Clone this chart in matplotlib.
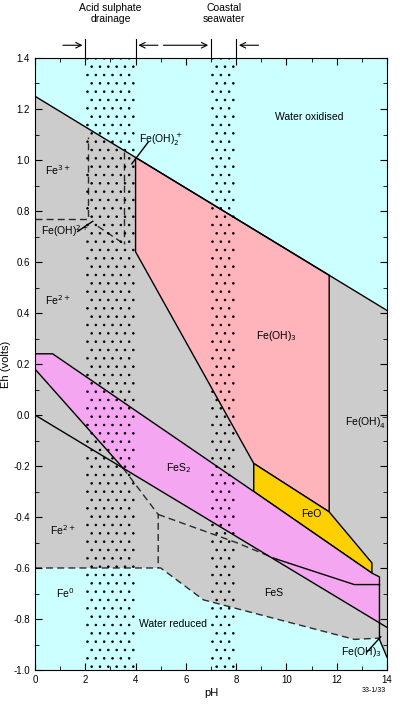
import matplotlib
matplotlib.use("Agg")
import matplotlib.pyplot as plt
from matplotlib.patches import Polygon
from matplotlib.ticker import MultipleLocator

plt.rcParams['font.family'] = ['Liberation Sans', 'DejaVu Sans']
plt.rcParams['hatch.linewidth'] = 0.6

water_upper = [(0, 1.25), (14, 0.41)]
water_lower = [(0, 0.0), (14, -0.833)]
grey_poly = [(0, 1.25), (14, 0.41), (14, -0.95), (13.7, -0.875), (12.7, -0.88), (6.7, -0.725), (5, -0.6), (0, -0.6)]
pink_poly = [(4, 1.01), (11.7, 0.548), (11.7, -0.38), (8.7, -0.19), (4, 0.64)]
feo_poly = [(8.7, -0.19), (11.7, -0.38), (13.4, -0.58), (13.4, -0.62), (8.7, -0.30)]
fes2_poly = [(0, 0.24), (0.7, 0.24), (8.7, -0.30), (13.4, -0.62), (13.7, -0.635), (13.7, -0.815), (3.5, -0.208), (0, 0.18)]
fes2_upper = [(0, 0.24), (0.7, 0.24), (8.7, -0.30), (13.4, -0.62), (13.7, -0.635), (13.7, -0.88)]
fes2_left = [(0, 0.18), (3.5, -0.208)]
fes_line = [(9.6, -0.565), (12.7, -0.665), (13.7, -0.665)]
fe0_dash = [(0, -0.6), (5, -0.6), (6.7, -0.725), (12.7, -0.88), (13.7, -0.875)]
dash2 = [(3.5, -0.208), (4.9, -0.39), (4.9, -0.6)]
dash3 = [(4.9, -0.39), (8, -0.5), (9.6, -0.565)]
fe3_dash_a = [(0, 0.77), (2.1, 0.77), (2.1, 1.09)]
fe3_dash_b = [(3.55, 1.03), (3.55, 0.67)]
fe3_dash_c = [(2.5, 0.74), (3.55, 0.67)]
bands = [(2, 4), (7, 8)]

fig = plt.figure(figsize=(4, 7.05), dpi=100)
ax = fig.add_axes([35/400, 35/705, 352/400, 612/705])
ax.set_xlim(0, 14); ax.set_ylim(-1.0, 1.4)
ax.set_facecolor('#ccffff')
ax.add_patch(Polygon(grey_poly, closed=True, fc='#cccccc', ec='none'))
ax.add_patch(Polygon(pink_poly, closed=True, fc='#ffb3ba', ec='k', lw=1))
ax.add_patch(Polygon(feo_poly, closed=True, fc='#ffd000', ec='k', lw=1))
ax.add_patch(Polygon(fes2_poly, closed=True, fc='#f5a6f0', ec='none'))
for b0, b1 in bands:
    ax.fill_between([b0, b1], -1.0, 1.4, facecolor='none', edgecolor='k', hatch='..', lw=0)

def pl(pts, **kw):
    xs, ys = zip(*pts)
    ax.plot(xs, ys, color='k', **kw)

for p in [water_upper, water_lower, fes2_upper, fes2_left, fes_line, [(13.7, -0.88), (14, -0.95)]]:
    pl(p, lw=1)
for p in [fe0_dash, dash2, dash3, fe3_dash_a, fe3_dash_b, fe3_dash_c]:
    pl(p, lw=1, ls=(0, (5, 3)), alpha=0.8)
pl([(3.85, 0.985), (4.5, 1.07)], lw=1)
pl([(1.7, 0.72), (2.3, 0.76)], lw=1)
pl([(13.2, -0.93), (13.75, -0.87)], lw=1)

fs = 7.5
t = dict(fontsize=fs, ha='center', va='center')
ax.text(0.9, 0.96, 'Fe$^{3+}$', **t)
ax.text(1.2, 0.72, 'Fe(OH)$^{2+}$', **t)
ax.text(5.0, 1.08, 'Fe(OH)$_2^+$', **t)
ax.text(0.9, 0.45, 'Fe$^{2+}$', **t)
ax.text(1.1, -0.45, 'Fe$^{2+}$', **t)
ax.text(1.2, -0.7, 'Fe$^0$', **t)
ax.text(5.5, -0.82, 'Water reduced', **t)
ax.text(9.5, -0.7, 'FeS', **t)
ax.text(5.7, -0.21, 'FeS$_2$', **t)
ax.text(11.0, -0.39, 'FeO', **t)
ax.text(9.6, 0.31, 'Fe(OH)$_3$', **t)
ax.text(13.2, -0.03, 'Fe(OH)$_4^-$', **t)
ax.text(10.9, 1.17, 'Water oxidised', **t)
ax.text(13.0, -0.93, 'Fe(OH)$_3$', **t)

ya = 1.45
for (xs, xe) in [(1, 2), (5, 4), (5, 7), (9, 8)]:
    ax.annotate('', xy=(xe, ya), xytext=(xs, ya), annotation_clip=False,
                arrowprops=dict(arrowstyle='->', lw=0.8, color='k'))
    ax.plot([xe, xe], [1.40, 1.475], color='k', lw=0.8, clip_on=False)
ax.text(3, 1.575, 'Acid sulphate\ndrainage', fontsize=7.5, ha='center', va='center', clip_on=False)
ax.text(7.5, 1.575, 'Coastal\nseawater', fontsize=7.5, ha='center', va='center', clip_on=False)

ax.xaxis.set_major_locator(MultipleLocator(2)); ax.xaxis.set_minor_locator(MultipleLocator(1))
ax.yaxis.set_major_locator(MultipleLocator(0.2)); ax.yaxis.set_minor_locator(MultipleLocator(0.1))
ax.tick_params(which='both', direction='in', top=True, right=True, labelsize=7)
ax.tick_params(which='major', length=5); ax.tick_params(which='minor', length=3)
ax.set_yticks([1.4,1.2,1.0,0.8,0.6,0.4,0.2,0.0,-0.2,-0.4,-0.6,-0.8,-1.0])
ax.set_yticklabels(['1.4','1.2','1.0','0.8','0.6','0.4','0.2','0.0','-0.2','-0.4','-0.6','-0.8','-1.0'])
ax.set_xlabel('pH', fontsize=8, labelpad=2)
ax.set_ylabel('Eh (volts)', fontsize=8, labelpad=2)
fig.text(0.965, 0.018, '33-1/33', fontsize=5, ha='right')
fig.savefig('out.png', dpi=100)
